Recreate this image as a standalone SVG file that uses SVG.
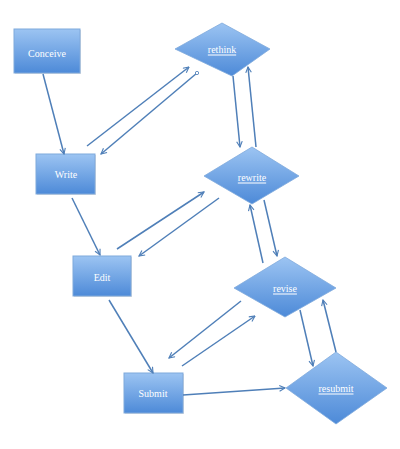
<svg xmlns="http://www.w3.org/2000/svg" width="400" height="449" viewBox="0 0 400 449">
<defs>
<linearGradient id="g" x1="0" y1="0" x2="0" y2="1">
<stop offset="0" stop-color="#9cc4f2"/>
<stop offset="1" stop-color="#4d8ad8"/>
</linearGradient>
<marker id="ah" viewBox="0 0 10 10" refX="9" refY="5" markerWidth="7" markerHeight="7" orient="auto-start-reverse" markerUnits="userSpaceOnUse">
<path d="M1,1 L9,5 L1,9" fill="none" stroke="#4f7fb8" stroke-width="1.6"/>
</marker>
<marker id="dot" viewBox="0 0 6 6" refX="3" refY="3" markerWidth="5" markerHeight="5" markerUnits="userSpaceOnUse">
<circle cx="3" cy="3" r="2" fill="#fff" stroke="#4f7fb8" stroke-width="1"/>
</marker>
</defs>
<style>
.box{fill:url(#g);stroke:#7fa9dc;stroke-width:1}
.sh{fill:#c8c8c8;opacity:0.6}
.dia{fill:url(#g);stroke:#7fa9dc;stroke-width:0.8}
.t{font-family:"Liberation Serif",serif;font-size:10px;fill:#fff;text-anchor:middle;dominant-baseline:central}
.u{text-decoration:underline}
.c line{stroke:#4f7fb8;stroke-width:1.5;marker-end:url(#ah)}
</style>
<rect width="400" height="449" fill="#fff"/>
<g id="conceive"><rect class="sh" x="15" y="30" width="66" height="44"/><rect class="box" x="14" y="29" width="66" height="44"/><text class="t" x="47" y="53">Conceive</text></g>
<g id="write"><rect class="sh" x="37" y="155" width="59" height="40"/><rect class="box" x="36" y="154" width="59" height="40"/><text class="t" x="66" y="174">Write</text></g>
<g id="edit"><rect class="sh" x="74" y="257" width="58" height="40"/><rect class="box" x="73" y="256" width="58" height="40"/><text class="t" x="102" y="277">Edit</text></g>
<g id="submit"><rect class="sh" x="125" y="374" width="59" height="40"/><rect class="box" x="124" y="373" width="59" height="40"/><text class="t" x="153" y="393">Submit</text></g>
<g id="rethink"><polygon class="dia" points="175,49 222,23 270,49 232,76"/><text class="t u" x="222" y="49">rethink</text></g>
<g id="rewrite"><polygon class="dia" points="204,176 252,147 299,176 252,204"/><text class="t u" x="252" y="177">rewrite</text></g>
<g id="revise"><polygon class="dia" points="234,288 285,257 336,288 285,317"/><text class="t u" x="285" y="288">revise</text></g>
<g id="resubmit"><polygon class="dia" points="286,388 336,352 387,388 336,424"/><text class="t u" x="336" y="388">resubmit</text></g>
<g class="c" id="connectors">
<line x1="43" y1="74" x2="64" y2="154"/>
<line x1="87" y1="146" x2="189" y2="67"/>
<line x1="197" y1="73" x2="101" y2="154" marker-start="url(#dot)"/>
<line x1="72" y1="198" x2="100" y2="255"/>
<line x1="117" y1="249" x2="204" y2="192"/>
<line x1="219" y1="198" x2="139" y2="256"/>
<line x1="233" y1="76" x2="240" y2="147"/>
<line x1="256" y1="147" x2="248" y2="67"/>
<line x1="264" y1="200" x2="277" y2="256"/>
<line x1="263" y1="263" x2="250" y2="205"/>
<line x1="241" y1="301" x2="169" y2="358"/>
<line x1="182" y1="366" x2="255" y2="316"/>
<line x1="109" y1="300" x2="153" y2="373"/>
<line x1="183" y1="395" x2="285" y2="388"/>
<line x1="300" y1="310" x2="313" y2="366"/>
<line x1="336" y1="352" x2="323" y2="300"/>
</g>
</svg>
